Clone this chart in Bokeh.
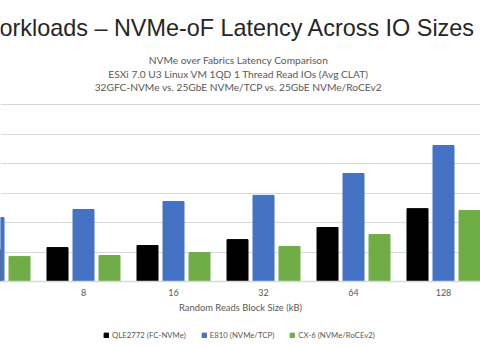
from bokeh.plotting import figure
from bokeh.layouts import column
from bokeh.models import Range1d, FixedTicker, Label, Legend, LegendItem
from bokeh.embed import file_html
from bokeh.resources import INLINE

block_sizes = ["4", "8", "16", "32", "64", "128"]
qle2772 = [54, 57.5, 61, 71, 91.5, 123.5]
e810 = [108.5, 122, 135.5, 146, 183, 230.5]
cx6 = [42.5, 44, 49, 59.5, 79.5, 120.5]

title_text = "orkloads \u2013 NVMe-oF Latency Across IO Sizes"
subtitle_lines = ["NVMe over Fabrics Latency Comparison",
                  "ESXi 7.0 U3 Linux VM 1QD 1 Thread Read IOs (Avg CLAT)",
                  "32GFC-NVMe vs. 25GbE NVMe/TCP vs. 25GbE NVMe/RoCEv2"]
x_title = "Random Reads Block Size (kB)"
series_names = ["QLE2772 (FC-NVMe)", "E810 (NVMe/TCP)", "CX-6 (NVMe/RoCEv2)"]
colors = ["#000000", "#4472C4", "#70AD47"]

GREY = "#595959"
FONT = "Lato"

idx = list(range(len(block_sizes)))
step = 26 / 90
bw = 21 / 90
series = [qle2772, e810, cx6]
offsets = [-step, 0, step]


def add_bars(fig):
    rs = []
    for vals, off, col in zip(series, offsets, colors):
        rs.append(fig.vbar(x=[i + off for i in idx], top=vals, width=bw, color=col))
    return rs


p = figure(frame_width=480, frame_height=281, output_backend="svg", toolbar_location=None,
           x_range=Range1d(7 / 90, 487 / 90), y_range=Range1d(0, 281 / 29.5 * 50),
           min_border_left=0, min_border_right=0, min_border_top=0,
           min_border_bottom=35, outline_line_color=None,
           background_fill_color="white", border_fill_color="white")
p.title.visible = False
add_bars(p)

p.yaxis.visible = False
p.xgrid.visible = False
p.ygrid.grid_line_color = "#d9d9d9"
p.ygrid.grid_line_width = 1
p.ygrid.ticker = FixedTicker(ticks=[50, 100, 150, 200, 250, 300])

p.xaxis.ticker = FixedTicker(ticks=idx)
p.xaxis.major_label_overrides = {i: s for i, s in zip(idx, block_sizes)}
p.xaxis.major_tick_line_color = None
p.xaxis.minor_tick_line_color = None
p.xaxis.axis_line_color = "#d9d9d9"
p.xaxis.axis_line_width = 1.5
p.xaxis.major_label_text_color = GREY
p.xaxis.major_label_text_font = FONT
p.xaxis.major_label_text_font_size = "9px"
p.xaxis.major_label_standoff = 1
p.xaxis.axis_label = x_title
p.xaxis.axis_label_text_color = GREY
p.xaxis.axis_label_text_font = FONT
p.xaxis.axis_label_text_font_size = "9.4px"
p.xaxis.axis_label_text_font_style = "normal"
p.xaxis.axis_label_standoff = 3

p.add_layout(Label(x=-1, y=254, x_units="screen", y_units="screen", text=title_text,
                   text_font="Liberation Sans", text_font_size="23.4px",
                   text_color="#262626", text_baseline="middle", text_align="left"))
for yy, line in zip([222, 208, 195], subtitle_lines):
    p.add_layout(Label(x=238, y=yy, x_units="screen", y_units="screen", text=line,
                       text_font=FONT, text_font_size="10.2px", text_color=GREY,
                       text_baseline="middle", text_align="center"))

# legend strip (same series, view range placed away from the bars)
q = figure(width=480, height=31, output_backend="svg", toolbar_location=None,
           x_range=Range1d(-20, -10), y_range=Range1d(0, 1),
           min_border_left=0, min_border_right=0, min_border_top=0,
           min_border_bottom=0, outline_line_color=None,
           background_fill_color="white", border_fill_color="white")
q.title.visible = False
q.axis.visible = False
q.grid.visible = False
rs = add_bars(q)
legend = Legend(items=[LegendItem(label=n, renderers=[r]) for n, r in zip(series_names, rs)],
                orientation="horizontal", location=(103, 7),
                label_text_font=FONT, label_text_font_size="7.8px",
                label_text_color=GREY, glyph_width=6, glyph_height=6,
                spacing=15, label_standoff=3, padding=2, margin=0,
                label_height=10,
                border_line_color=None, background_fill_alpha=0)
q.add_layout(legend, "center")

layout = column(p, q, spacing=0)
open("out.html", "w").write(file_html(layout, INLINE))
